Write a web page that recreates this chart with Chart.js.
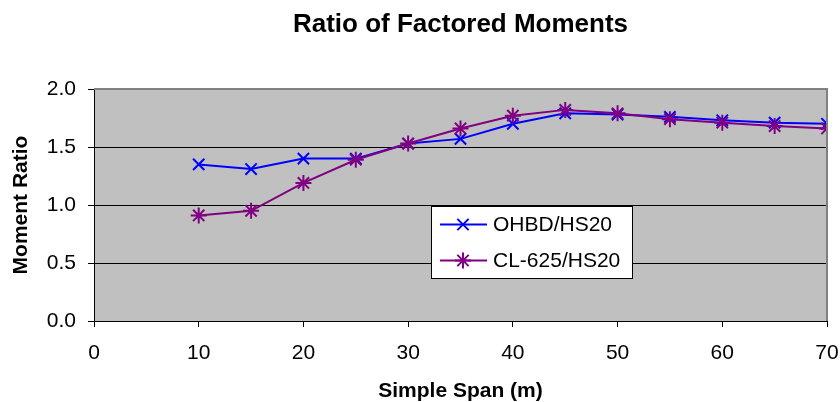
<!DOCTYPE html>
<html lang="en">
<head>
  <meta charset="UTF-8">
  <title>Ratio of Factored Moments</title>
  <script src="https://cdn.jsdelivr.net/npm/chart.js"></script>
  <style>
    html, body {
      margin: 0;
      background: white;
    }
    #wrap {
      width: 840px;
      height: 402px;
    }
  </style>
</head>
<body>
  <div id="wrap">
    <canvas id="momentChart" width="840" height="402"></canvas>
  </div>

  <script>
    const spans = [10, 15, 20, 25, 30, 35, 40, 45, 50, 55, 60, 65, 70];
    const ohbd = [1.35, 1.31, 1.40, 1.40, 1.53, 1.57, 1.70, 1.79, 1.78, 1.76, 1.73, 1.71, 1.70];
    const cl625 = [0.91, 0.95, 1.19, 1.39, 1.53, 1.66, 1.77, 1.82, 1.79, 1.74, 1.71, 1.68, 1.66];
    const seriesNames = ["OHBD/HS20", "CL-625/HS20"];
    const chartTitle = "Ratio of Factored Moments";
    const xTitle = "Simple Span (m)";
    const yTitle = "Moment Ratio";

    const FONT = "'Liberation Sans', Arial, sans-serif";
    const BLUE = "#0000ff";
    const PURPLE = "#800080";

    // grey plot area + grey top/right border, like the old Excel look
    const plotBackground = {
      id: "plotBackground",
      beforeDraw(chart) {
        const { ctx, chartArea: a } = chart;
        ctx.save();
        ctx.fillStyle = "#c0c0c0";
        ctx.fillRect(a.left, a.top, a.right - a.left, a.bottom - a.top);
        ctx.restore();
      },
      afterDatasetsDraw(chart) {
        const { ctx, chartArea: a } = chart;
        ctx.save();
        ctx.strokeStyle = "#808080";
        ctx.lineWidth = 2;
        ctx.beginPath();
        ctx.moveTo(a.left, a.top);
        ctx.lineTo(a.right, a.top);
        ctx.lineTo(a.right, a.bottom);
        ctx.stroke();
        ctx.restore();
      }
    };

    // title centred over the plot, not the whole canvas
    const plotTitle = {
      id: "plotTitle",
      afterDraw(chart) {
        const { ctx, chartArea: a } = chart;
        ctx.save();
        ctx.fillStyle = "#000";
        ctx.font = "bold 26px " + FONT;
        ctx.textAlign = "center";
        ctx.textBaseline = "middle";
        ctx.fillText(chartTitle, (a.left + a.right) / 2, 25);
        ctx.restore();
      }
    };

    // boxed legend sitting inside the plot
    const boxLegend = {
      id: "boxLegend",
      afterDraw(chart) {
        const { ctx } = chart;
        const x = 431.5, y = 206.5, w = 201, h = 72;
        ctx.save();
        ctx.fillStyle = "#fff";
        ctx.strokeStyle = "#000";
        ctx.lineWidth = 1;
        ctx.fillRect(x, y, w, h);
        ctx.strokeRect(x, y, w, h);
        ctx.font = "21px " + FONT;
        ctx.textBaseline = "middle";
        chart.data.datasets.forEach((ds, i) => {
          const ly = y + 18 + i * 36;
          ctx.strokeStyle = ds.borderColor;
          ctx.lineWidth = 2;
          ctx.beginPath();
          ctx.moveTo(440, ly);
          ctx.lineTo(487, ly);
          ctx.stroke();
          ctx.fillStyle = ds.borderColor;
          Chart.helpers.drawPoint(ctx, {
            pointStyle: ds.pointStyle,
            radius: 8,
            rotation: 0,
            borderWidth: 2
          }, 463, ly);
          ctx.fillStyle = "#000";
          ctx.fillText(ds.label, 493, ly + 1);
        });
        ctx.restore();
      }
    };

    const ctx = document.getElementById("momentChart").getContext("2d");

    new Chart(ctx, {
      type: "line",
      data: {
        labels: spans,
        datasets: [{
          label: seriesNames[0],
          data: spans.map((s, i) => ({ x: s, y: ohbd[i] })),
          borderColor: BLUE,
          backgroundColor: BLUE,
          borderWidth: 2,
          pointStyle: "crossRot",
          pointRadius: 8,
          pointBorderWidth: 2,
          tension: 0,
          fill: false,
          order: 1
        }, {
          label: seriesNames[1],
          data: spans.map((s, i) => ({ x: s, y: cl625[i] })),
          borderColor: PURPLE,
          backgroundColor: PURPLE,
          borderWidth: 2,
          pointStyle: "star",
          pointRadius: 8,
          pointBorderWidth: 2,
          tension: 0,
          fill: false,
          order: 0
        }]
      },
      options: {
        responsive: false,
        animation: false,
        layout: {
          padding: { top: 89, right: 13, bottom: 0, left: 0 }
        },
        scales: {
          x: {
            type: "linear",
            min: 0,
            max: 70,
            afterFit(scale) {
              scale.height = 81;
              scale.paddingLeft = 0;
              scale.paddingRight = 0;
            },
            ticks: {
              stepSize: 10,
              color: "#000",
              padding: 14,
              font: { family: FONT, size: 21 }
            },
            grid: {
              drawOnChartArea: false,
              drawTicks: true,
              tickLength: 6,
              tickColor: "#000"
            },
            border: { color: "#000", width: 1 },
            title: {
              display: true,
              text: xTitle,
              color: "#000",
              padding: { top: 0, bottom: 0 },
              font: { family: FONT, size: 21, weight: "bold", lineHeight: 1 }
            }
          },
          y: {
            min: 0,
            max: 2,
            afterFit(scale) { scale.width = 94; },
            ticks: {
              stepSize: 0.5,
              color: "#000",
              padding: 12,
              font: { family: FONT, size: 21 },
              callback: v => v.toFixed(1)
            },
            grid: {
              color: "#000",
              lineWidth: 1,
              tickLength: 6,
              tickColor: "#000"
            },
            border: { color: "#000", width: 1 },
            title: {
              display: true,
              text: yTitle,
              color: "#000",
              padding: { top: 11, bottom: 0 },
              font: { family: FONT, size: 21, weight: "bold", lineHeight: 1 }
            }
          }
        },
        plugins: {
          legend: { display: false },
          title: { display: false },
          tooltip: { enabled: false }
        }
      },
      plugins: [plotBackground, plotTitle, boxLegend]
    });
  </script>
</body>
</html>
